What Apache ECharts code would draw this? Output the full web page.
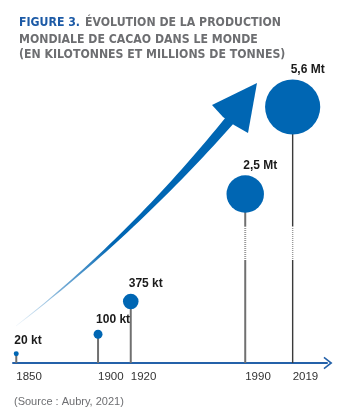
<!DOCTYPE html>
<html>
<head>
<meta charset="utf-8">
<script src="https://cdn.jsdelivr.net/npm/echarts@6/dist/echarts.min.js"></script>
<style>
  html, body { margin: 0; padding: 0; background: #fff; }
  #chart { width: 353px; height: 419px; }
</style>
</head>
<body>
<div id="chart"></div>
<script>
(function() {
  var years = [1850, 1900, 1920, 1990, 2019];
  var production = [20, 100, 375, 2500, 5600]; // kilotonnes
  var valueLabels = ['20 kt', '100 kt', '375 kt', '2,5 Mt', '5,6 Mt'];

  var blue = '#0066b3';
  var axisBlue = '#2461a9';
  var grey = '#6d6e71';
  var yMin = 1.8;
  var titleFont = "'DejaVu Sans Condensed', 'Liberation Sans', sans-serif";

  // the figure is drawn on a square-root scale (circle area ~ production)
  var points = years.map(function(y, i) {
    return [y, Math.sqrt(production[i])];
  });

  // --- tapered arrow (decoration) ---
  var p0 = [16, 326], c = [130, 238], p2 = [230, 120];
  var upper = [], lower = [];
  for (var k = 0; k <= 40; k++) {
    var t = k / 40;
    var bx = (1 - t) * (1 - t) * p0[0] + 2 * (1 - t) * t * c[0] + t * t * p2[0];
    var by = (1 - t) * (1 - t) * p0[1] + 2 * (1 - t) * t * c[1] + t * t * p2[1];
    var tx = 2 * (1 - t) * (c[0] - p0[0]) + 2 * t * (p2[0] - c[0]);
    var ty = 2 * (1 - t) * (c[1] - p0[1]) + 2 * t * (p2[1] - c[1]);
    var len = Math.sqrt(tx * tx + ty * ty);
    var nx = -ty / len, ny = tx / len;
    var hw = 0.3 + 4.7 * Math.pow(t, 1.5);
    upper.push([bx - nx * hw, by - ny * hw]);
    lower.unshift([bx + nx * hw, by + ny * hw]);
  }

  var chart = echarts.init(document.getElementById('chart'), null, { renderer: 'canvas' });
  chart.setOption({
    animation: false,
    title: {
      left: 14,
      top: 9,
      text: '{a|FIGURE 3.} {b|ÉVOLUTION DE LA PRODUCTION}\n{b|MONDIALE DE CACAO DANS LE MONDE}\n{b|(EN KILOTONNES ET MILLIONS DE TONNES)}',
      textStyle: {
        rich: {
          a: { color: '#1c5aa6', fontWeight: 'bold', fontSize: 12.2, lineHeight: 15, fontFamily: titleFont },
          b: { color: grey, fontWeight: 'bold', fontSize: 12.2, lineHeight: 15, fontFamily: titleFont }
        }
      }
    },
    graphic: [
      {
        type: 'polygon',
        shape: { points: upper.concat(lower) },
        style: {
          fill: new echarts.graphic.LinearGradient(0, 1, 1, 0, [
            { offset: 0, color: 'rgba(0,102,179,0.05)' },
            { offset: 0.2, color: 'rgba(0,102,179,0.55)' },
            { offset: 0.42, color: blue },
            { offset: 1, color: blue }
          ])
        },
        z: 1
      },
      {
        type: 'polygon',
        shape: { points: [[212, 105], [257, 83], [248, 133], [234, 125], [223, 117]] },
        style: { fill: blue },
        z: 1
      },
      {
        type: 'text',
        left: 14,
        top: 396,
        style: {
          text: '(Source : Aubry, 2021)',
          fill: grey,
          fontSize: 11,
          fontFamily: "'Liberation Sans', sans-serif"
        }
      }
    ],
    grid: { left: 13, right: 26, top: 50, bottom: 56 },
    xAxis: {
      type: 'value',
      min: 1848,
      max: 2040,
      axisLine: {
        show: true,
        lineStyle: { color: axisBlue, width: 2 },
        symbol: ['none', 'path://M0,18 L14,0 L28,18 L25,20 L14,6 L3,20 Z'],
        symbolSize: [14, 9],
        symbolOffset: [0, 1]
      },
      axisTick: { show: false },
      splitLine: { show: false },
      axisLabel: {
        customValues: years,
        formatter: function(v) { return String(v); },
        align: 'left',
        margin: 8,
        color: '#333',
        fontSize: 11.5,
        fontFamily: "'Liberation Sans', sans-serif"
      }
    },
    yAxis: {
      type: 'value',
      min: yMin,
      max: 91.1,
      show: false,
      splitLine: { show: false }
    },
    series: [
      {
        type: 'custom',
        data: points,
        z: 2,
        renderItem: function(params, api) {
          var year = api.value(0);
          var top = api.coord([year, api.value(1)]);
          var base = api.coord([year, yMin]);
          var last = params.dataIndex === years.length - 1;
          var col = last ? '#3a3a3a' : '#707070';
          var w = last ? 1.4 : 2;
          var b1 = base[1] - 137, b2 = base[1] - 103;
          if (top[1] < b1) {
            return {
              type: 'group',
              children: [
                { type: 'line', shape: { x1: top[0], y1: top[1], x2: top[0], y2: b1 },
                  style: { stroke: col, lineWidth: w } },
                { type: 'line', shape: { x1: top[0], y1: b1, x2: top[0], y2: b2 },
                  style: { stroke: '#999', lineWidth: w, lineDash: [1, 1] } },
                { type: 'line', shape: { x1: top[0], y1: b2, x2: top[0], y2: base[1] },
                  style: { stroke: col, lineWidth: w } }
              ]
            };
          }
          return { type: 'line', shape: { x1: top[0], y1: top[1], x2: base[0], y2: base[1] },
                   style: { stroke: col, lineWidth: w } };
        }
      },
      {
        type: 'scatter',
        data: points,
        z: 3,
        symbol: 'circle',
        symbolSize: function(val) { return 1.8 + 0.713 * val[1]; },
        itemStyle: { color: blue, opacity: 1 },
        label: {
          show: true,
          position: 'top',
          align: 'left',
          distance: 4,
          offset: [-2, 0],
          color: '#1a1a1a',
          fontWeight: 'bold',
          fontSize: 12,
          fontFamily: "'Liberation Sans', sans-serif",
          formatter: function(p) { return valueLabels[p.dataIndex]; }
        }
      }
    ]
  });
  window.addEventListener('resize', function() { chart.resize(); });
})();
</script>
</body>
</html>
